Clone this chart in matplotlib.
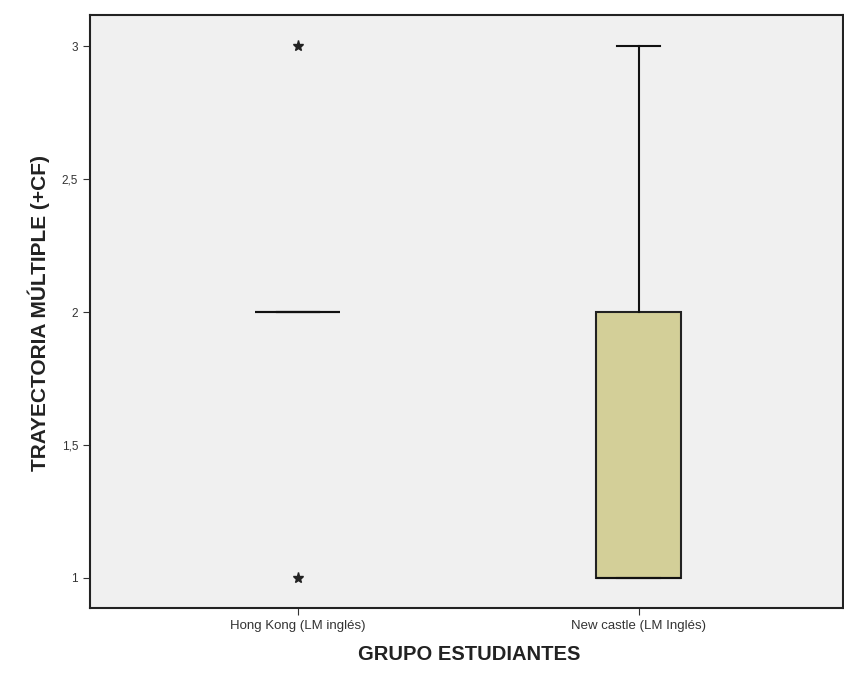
import matplotlib.pyplot as plt
from matplotlib.ticker import FuncFormatter

plt.rcParams['font.family'] = ['Liberation Sans', 'DejaVu Sans']

# Boxplot summary per group
groups = ['Hong Kong (LM inglés)', 'New castle (LM Inglés)']
medians = [2, 1]
q1 = [2, 1]
q3 = [2, 2]
whisker_lo = [2, 1]
whisker_hi = [2, 3]
extremes = [[1, 3], []]

stats = []
for i, name in enumerate(groups):
    stats.append({'label': name, 'med': medians[i], 'q1': q1[i], 'q3': q3[i],
                  'whislo': whisker_lo[i], 'whishi': whisker_hi[i], 'fliers': extremes[i]})

fig = plt.figure(figsize=(8.44, 6.77), dpi=100)
ax = fig.add_axes([0.1066, 0.1019, 0.8922, 0.876])
ax.set_facecolor('#f0f0f0')

ax.bxp(stats, positions=[1, 2], widths=0.25, patch_artist=True, showcaps=True,
       boxprops=dict(facecolor='#d3cf98', edgecolor='#222222', linewidth=1.5),
       medianprops=dict(color='#111111', linewidth=1.5),
       whiskerprops=dict(color='#111111', linewidth=1.5),
       capprops=dict(color='#111111', linewidth=1.5),
       flierprops=dict(marker='*', markerfacecolor='#222222', markeredgecolor='#222222',
                       markersize=8, linestyle='none'))

ax.set_xlim(0.39, 2.6)
ax.set_ylim(0.887, 3.117)
ax.set_yticks([1, 1.5, 2, 2.5, 3])
ax.yaxis.set_major_formatter(FuncFormatter(lambda v, p: ('%g' % v).replace('.', ',')))
ax.tick_params(axis='y', labelsize=8.5, labelcolor='#333333', color='#333333', length=5)
ax.tick_params(axis='x', labelsize=9.5, labelcolor='#333333', color='#333333', length=5)

for side in ['left', 'bottom', 'top', 'right']:
    ax.spines[side].set_linewidth(1.5)
    ax.spines[side].set_color('#222222')

ax.set_xlabel('GRUPO ESTUDIANTES', fontsize=14.5, fontweight='bold', color='#222222', va='center')
ax.set_ylabel('TRAYECTORIA MÚLTIPLE (+CF)', fontsize=15, fontweight='bold', color='#222222', va='center')
ax.xaxis.set_label_coords(0.504, -0.079)
ax.yaxis.set_label_coords(-0.068, 0.498)

fig.savefig('out.png', dpi=100)
